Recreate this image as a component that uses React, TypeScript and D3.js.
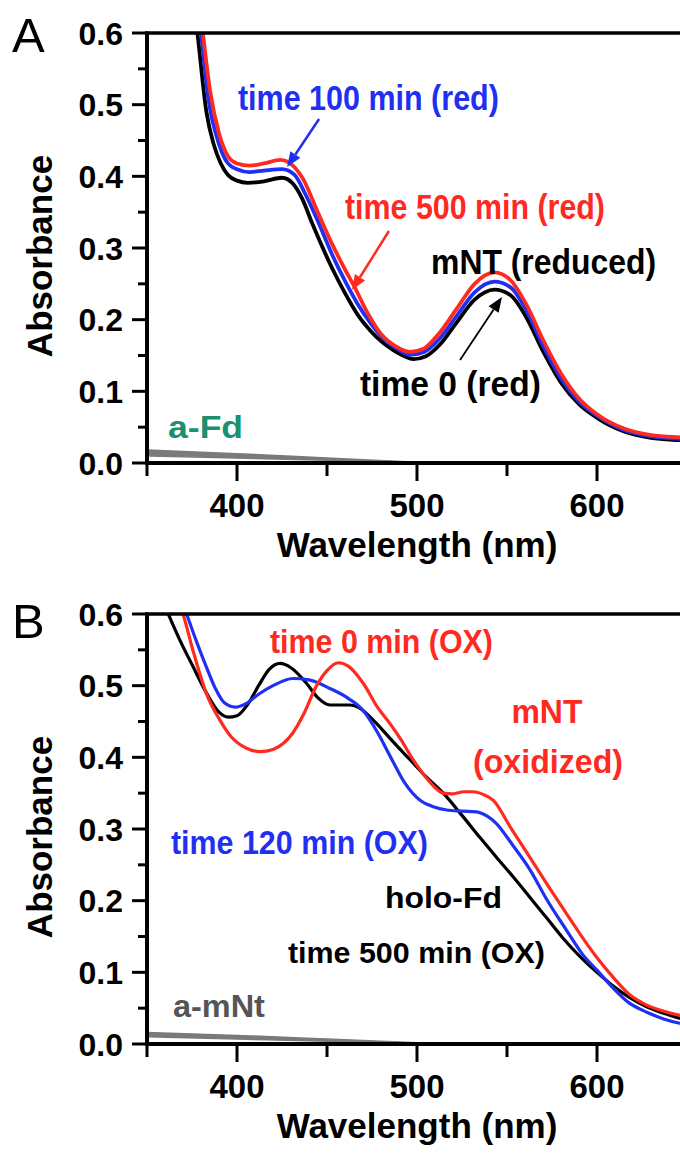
import React from 'react';
import * as d3 from 'd3';

type Pt = [number, number];

// ---------- axis ticks ----------
const xTicksMajor = [400, 500, 600];
const xTicksMinor = [350, 450, 550, 650];
const yTicksMajor = [0, 0.1, 0.2, 0.3, 0.4, 0.5, 0.6];
const yTicksMinor = [0.05, 0.15, 0.25, 0.35, 0.45, 0.55];

// ---------- Panel A: mNT (reduced) ----------
const aTime0: Pt[] = [
  [374, 0.68], [378, 0.6], [383, 0.49], [387, 0.445], [391, 0.418], [395, 0.402], [400, 0.394],
  [406, 0.391], [415, 0.393], [425, 0.398], [431, 0.39], [436, 0.37], [442, 0.333], [453, 0.271],
  [460, 0.237], [467, 0.207], [474, 0.185], [480, 0.17], [487, 0.157], [493, 0.149], [498, 0.145],
  [505, 0.149], [513, 0.166], [522, 0.196], [532, 0.228], [543, 0.242], [552, 0.234], [561, 0.202],
  [570, 0.156], [580, 0.112], [590, 0.082], [600, 0.063], [615, 0.044], [630, 0.035], [645, 0.032], [655, 0.031],
];
const aTime100: Pt[] = [
  [376, 0.68], [380, 0.6], [384, 0.51], [390, 0.445], [395, 0.418], [400, 0.41], [407, 0.406],
  [415, 0.408], [425, 0.41], [432, 0.402], [438, 0.375], [445, 0.337], [453, 0.29], [460, 0.254],
  [467, 0.222], [474, 0.196], [480, 0.177], [488, 0.161], [496, 0.151], [504, 0.155], [512, 0.172],
  [522, 0.205], [532, 0.238], [543, 0.253], [552, 0.245], [561, 0.212], [570, 0.164], [580, 0.118],
  [590, 0.086], [600, 0.066], [615, 0.046], [630, 0.037], [645, 0.034], [655, 0.033],
];
const aTime500: Pt[] = [
  [377, 0.68], [381, 0.6], [385, 0.52], [390, 0.46], [395, 0.428], [400, 0.418], [407, 0.415],
  [415, 0.418], [424, 0.423], [431, 0.415], [437, 0.395], [444, 0.355], [452, 0.31], [460, 0.27],
  [465, 0.247], [472, 0.212], [480, 0.18], [488, 0.163], [496, 0.155], [504, 0.16], [512, 0.18],
  [522, 0.215], [532, 0.25], [543, 0.266], [552, 0.255], [561, 0.22], [570, 0.172], [580, 0.125],
  [590, 0.09], [600, 0.068], [615, 0.048], [630, 0.039], [645, 0.036], [655, 0.035],
];
const aFdUpper: Pt[] = [[350, 0.018], [400, 0.013], [450, 0.007], [500, 0.001]];
const aFdLower: Pt[] = [[350, 0.010], [400, 0.007], [450, 0.004], [500, 0.001]];

// ---------- Panel B: mNT (oxidized) ----------
const bTime500: Pt[] = [
  [355, 0.64], [361.8, 0.6], [368, 0.565], [375.7, 0.526], [383, 0.49], [390, 0.463], [395.2, 0.456],
  [400, 0.458], [406, 0.474], [412, 0.5], [418, 0.523], [424, 0.531], [430, 0.525], [438.7, 0.503],
  [445, 0.483], [451.7, 0.473], [462.8, 0.473], [468, 0.469], [472, 0.461], [478, 0.446], [485, 0.4265],
  [496, 0.397], [505, 0.373], [514.6, 0.35], [525, 0.319], [535, 0.288], [544, 0.261], [553.5, 0.233],
  [562, 0.207], [572, 0.176], [581, 0.148], [590.6, 0.122], [600, 0.1], [609, 0.081], [618, 0.065],
  [627.6, 0.052], [637, 0.043], [646, 0.036], [655, 0.033],
];
const bTime120: Pt[] = [
  [366, 0.64], [372, 0.6], [377, 0.565], [383, 0.526], [388, 0.496], [393, 0.476], [399, 0.47],
  [405, 0.475], [412, 0.488], [420, 0.5], [431, 0.51], [440, 0.508], [451.7, 0.496], [462, 0.482],
  [470.2, 0.465], [478, 0.435], [485, 0.402], [493, 0.365], [501.7, 0.34], [509, 0.331], [516.5, 0.3265],
  [525, 0.325], [533, 0.324], [539, 0.318], [544, 0.308], [553, 0.278], [562.8, 0.243], [572, 0.202],
  [583, 0.159], [592, 0.125], [600, 0.103], [609, 0.078], [618, 0.057], [628, 0.044], [637, 0.035],
  [646, 0.029], [655, 0.026],
];
const bTime0: Pt[] = [
  [364, 0.64], [370, 0.6], [376, 0.545], [383, 0.489], [390.5, 0.452], [397, 0.428], [405, 0.413],
  [412.8, 0.408], [420, 0.411], [426, 0.42], [431, 0.434], [437, 0.46], [444, 0.499], [450, 0.521],
  [456.3, 0.532], [462, 0.527], [470.2, 0.503], [478, 0.47], [485, 0.447], [491, 0.425], [498, 0.396],
  [505, 0.372], [510, 0.358], [514.6, 0.35], [520, 0.349], [526, 0.352], [531.3, 0.352], [537, 0.348],
  [542.4, 0.34], [552, 0.302], [562.8, 0.26], [573, 0.22], [583, 0.182], [591, 0.152], [599.8, 0.121],
  [609, 0.093], [618, 0.069], [627, 0.055], [636.8, 0.046], [646, 0.04], [655, 0.037],
];
const aMNtUpper: Pt[] = [[350, 0.016], [400, 0.012], [450, 0.007], [507, 0.001]];
const aMNtLower: Pt[] = [[350, 0.010], [400, 0.007], [450, 0.004], [507, 0.001]];

// ---------- annotations (data coordinates) ----------
const RED = '#ff2a1f';
const BLUE = '#1f30f2';
const BLACK = '#000000';
const TEAL = '#1b8f70';
const GRAY = '#7a7a7a';

type Label = { text: string; x: number; y: number; color: string; size: number; len: number; anchor?: string };
type Arrow = { from: Pt; to: Pt; color: string; width: number };

const labelsA: Label[] = [
  { text: 'time 100 min (red)', x: 400.5, y: 0.4925, color: BLUE, size: 35, len: 261 },
  { text: 'time 500 min (red)', x: 460, y: 0.3405, color: RED, size: 35, len: 260 },
  { text: 'mNT (reduced)', x: 507.8, y: 0.2637, color: BLACK, size: 35, len: 225 },
  { text: 'time 0 (red)', x: 468.3, y: 0.0935, color: BLACK, size: 35, len: 181 },
  { text: 'a-Fd', x: 361.7, y: 0.0349, color: TEAL, size: 32, len: 75 },
];
const arrowsA: Arrow[] = [
  { from: [445.6, 0.48], to: [427.8, 0.413], color: BLUE, width: 2.5 },
  { from: [484.4, 0.3237], to: [463.9, 0.2414], color: RED, width: 2.5 },
  { from: [523.9, 0.1437], to: [547.2, 0.2316], color: BLACK, width: 1.8 },
];
const labelsB: Label[] = [
  { text: 'time 0 min (OX)', x: 418.3, y: 0.5456, color: RED, size: 33, len: 223 },
  { text: 'mNT', x: 572.2, y: 0.4479, color: RED, size: 34, len: 71, anchor: 'middle' },
  { text: '(oxidized)', x: 572.8, y: 0.3781, color: RED, size: 34, len: 150, anchor: 'middle' },
  { text: 'time 120 min (OX)', x: 363.3, y: 0.2651, color: BLUE, size: 34, len: 257 },
  { text: 'holo-Fd', x: 482.2, y: 0.1898, color: BLACK, size: 30, len: 117 },
  { text: 'time 500 min (OX)', x: 428.3, y: 0.113, color: BLACK, size: 30, len: 257 },
  { text: 'a-mNt', x: 364.4, y: 0.0377, color: '#555555', size: 32, len: 92 },
];

const W = 680;
const H = 1156;
const LEFT = 147;
const RIGHT_DOMAIN = 687;
const PLOT_H = 430;

const xScale = d3.scaleLinear().domain([350, 650]).range([LEFT, RIGHT_DOMAIN]);

const sans = "'Liberation Sans', Arial, Helvetica, sans-serif";

type Series = { data: Pt[]; color: string; width: number };

function Panel(props: {
  id: string;
  top: number;
  letter: string;
  letterY: number;
  series: Series[];
  band: [Pt[], Pt[]];
  labels: Label[];
  arrows: Arrow[];
}) {
  const { id, top, letter, letterY, series, band, labels, arrows } = props;
  const bottom = top + PLOT_H;
  const y = d3.scaleLinear().domain([0, 0.6]).range([bottom, top]);
  const line = d3
    .line<Pt>()
    .x((d) => xScale(d[0]))
    .y((d) => y(d[1]))
    .curve(d3.curveMonotoneX);
  const [upper, lower] = band;
  const area = d3
    .area<Pt>()
    .x((d) => xScale(d[0]))
    .y1((d) => y(d[1]))
    .y0((_d, i) => y(lower[i][1]))
    .curve(d3.curveMonotoneX);
  const fmt = d3.format('.1f');

  return (
    <g>
      <defs>
        <clipPath id={`clip-${id}`}>
          <rect x={LEFT} y={top} width={W - LEFT} height={PLOT_H} />
        </clipPath>
      </defs>
      <text x={12} y={letterY} fontFamily={sans} fontSize={49} fill="#000">
        {letter}
      </text>
      <g clipPath={`url(#clip-${id})`}>
        <path d={area(upper) || ''} fill={GRAY} stroke={GRAY} strokeWidth={1.5} />
        {series.map((s, i) => (
          <path key={i} d={line(s.data) || ''} fill="none" stroke={s.color} strokeWidth={s.width} strokeLinejoin="round" />
        ))}
      </g>
      {/* frame */}
      <line x1={LEFT - 2} x2={W} y1={top} y2={top} stroke="#000" strokeWidth={3.5} />
      <line x1={LEFT - 2} x2={W} y1={bottom} y2={bottom} stroke="#000" strokeWidth={4} />
      <line x1={LEFT} x2={LEFT} y1={top - 1.5} y2={bottom + 2} stroke="#000" strokeWidth={4} />
      {/* y ticks */}
      {yTicksMajor.map((v) => (
        <g key={`ym${v}`}>
          <line x1={LEFT - 15} x2={LEFT} y1={y(v)} y2={y(v)} stroke="#000" strokeWidth={3} />
          <text
            x={LEFT - 24}
            y={y(v)}
            dy="0.36em"
            textAnchor="end"
            fontFamily={sans}
            fontWeight="bold"
            fontSize={32}
            fill="#000"
          >
            {fmt(v)}
          </text>
        </g>
      ))}
      {yTicksMinor.map((v) => (
        <line key={`yn${v}`} x1={LEFT - 9} x2={LEFT} y1={y(v)} y2={y(v)} stroke="#000" strokeWidth={3} />
      ))}
      {/* x ticks */}
      {xTicksMajor.map((v) => (
        <g key={`xm${v}`}>
          <line x1={xScale(v)} x2={xScale(v)} y1={bottom} y2={bottom + 18} stroke="#000" strokeWidth={3} />
          <text
            x={xScale(v)}
            y={bottom + 54}
            textAnchor="middle"
            fontFamily={sans}
            fontWeight="bold"
            fontSize={33}
            fill="#000"
          >
            {v}
          </text>
        </g>
      ))}
      {xTicksMinor.map((v) => (
        <line key={`xn${v}`} x1={xScale(v)} x2={xScale(v)} y1={bottom} y2={bottom + 13} stroke="#000" strokeWidth={3} />
      ))}
      {/* axis titles */}
      <text
        x={(LEFT + RIGHT_DOMAIN) / 2}
        y={bottom + 94}
        textAnchor="middle"
        fontFamily={sans}
        fontWeight="bold"
        fontSize={35}
        fill="#000"
      >
        Wavelength (nm)
      </text>
      <text
        transform={`translate(52, ${top + 223}) rotate(-90)`}
        textAnchor="middle"
        fontFamily={sans}
        fontWeight="bold"
        fontSize={35}
        fill="#000"
      >
        Absorbance
      </text>
      {/* arrows */}
      {arrows.map((a, i) => {
        const x1 = xScale(a.from[0]);
        const y1 = y(a.from[1]);
        const x2 = xScale(a.to[0]);
        const y2 = y(a.to[1]);
        const dx = x2 - x1;
        const dy = y2 - y1;
        const len = Math.sqrt(dx * dx + dy * dy);
        const ux = dx / len;
        const uy = dy / len;
        const hl = 15;
        const hw = 6;
        const bx = x2 - ux * hl;
        const by = y2 - uy * hl;
        const pts = [
          [x2, y2],
          [bx - uy * hw, by + ux * hw],
          [bx + uy * hw, by - ux * hw],
        ]
          .map((p) => p.join(','))
          .join(' ');
        return (
          <g key={i}>
            <line x1={x1} y1={y1} x2={bx} y2={by} stroke={a.color} strokeWidth={a.width} />
            <polygon points={pts} fill={a.color} />
          </g>
        );
      })}
      {/* labels */}
      {labels.map((l, i) => (
        <text
          key={i}
          x={xScale(l.x)}
          y={y(l.y)}
          textAnchor={l.anchor || 'start'}
          fontFamily={sans}
          fontWeight="bold"
          fontSize={l.size}
          textLength={l.len}
          lengthAdjust="spacingAndGlyphs"
          fill={l.color}
        >
          {l.text}
        </text>
      ))}
    </g>
  );
}

export default function App() {
  const seriesA: Series[] = [
    { data: aTime0, color: BLACK, width: 3.8 },
    { data: aTime100, color: BLUE, width: 3.8 },
    { data: aTime500, color: RED, width: 3.8 },
  ];
  const seriesB: Series[] = [
    { data: bTime500, color: BLACK, width: 3.2 },
    { data: bTime120, color: BLUE, width: 3.2 },
    { data: bTime0, color: RED, width: 3.2 },
  ];
  return (
    <svg
      width={W}
      height={H}
      viewBox={`0 0 ${W} ${H}`}
      style={{ position: 'absolute', left: 0, top: 0, background: '#fff' }}
    >
      <rect x={0} y={0} width={W} height={H} fill="#fff" />
      <Panel id="A" top={33} letter="A" letterY={52} series={seriesA} band={[aFdUpper, aFdLower]} labels={labelsA} arrows={arrowsA} />
      <Panel id="B" top={614} letter="B" letterY={638} series={seriesB} band={[aMNtUpper, aMNtLower]} labels={labelsB} arrows={[]} />
    </svg>
  );
}
